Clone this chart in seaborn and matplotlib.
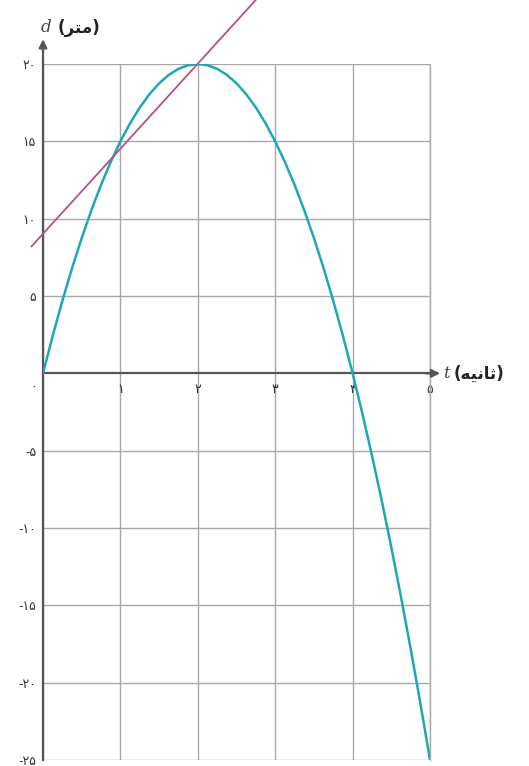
import pandas as pd
import matplotlib
matplotlib.use("Agg")
import matplotlib.pyplot as plt
import seaborn as sns

# values: distance d (m) against time t (s)
t_values = [0, 0.125, 0.25, 0.375, 0.5, 0.625, 0.75, 0.875, 1, 1.125,
            1.25, 1.375, 1.5, 1.625, 1.75, 1.875, 2, 2.125, 2.25, 2.375,
            2.5, 2.625, 2.75, 2.875, 3, 3.125, 3.25, 3.375, 3.5, 3.625,
            3.75, 3.875, 4, 4.125, 4.25, 4.375, 4.5, 4.625, 4.75, 4.875, 5]
d_values = [0, 2.42, 4.69, 6.8, 8.75, 10.55, 12.19, 13.67, 15, 16.17,
            17.19, 18.05, 18.75, 19.3, 19.69, 19.92, 20, 19.92, 19.69, 19.3,
            18.75, 18.05, 17.19, 16.17, 15, 13.67, 12.19, 10.55, 8.75, 6.8,
            4.69, 2.42, 0, -2.58, -5.31, -8.2, -11.25, -14.45, -17.81, -21.33, -25]

# secant line end points (t, d)
line_t = [-0.15, 2.85]
line_d = [8.2, 24.7]

x_ticks = [0, 1, 2, 3, 4, 5]
x_labels = ["", "۱", "۲", "۳", "۴", "۵"]
zero_label = "۰"
y_ticks = [-25, -20, -15, -10, -5, 5, 10, 15, 20]
y_labels = ["-۲۵", "-۲۰", "-۱۵", "-۱۰", "-۵", "۵", "۱۰", "۱۵", "۲۰"]

curve_df = pd.DataFrame({"t": t_values, "d": d_values})
line_df = pd.DataFrame({"t": line_t, "d": line_d})

sns.set_theme(style="whitegrid")
plt.rcParams["font.family"] = ["DejaVu Sans"]

fig = plt.figure(figsize=(5.29, 7.66), dpi=100)
ax = fig.add_axes([0.0813, 0.0078, 0.7316, 0.9086])

ax.set_xlim(0, 5)
ax.set_ylim(-25, 20)
ax.set_xticks(x_ticks)
ax.set_xticklabels(x_labels)
ax.set_yticks(y_ticks)
ax.set_yticklabels(y_labels)
ax.grid(True, color="#a8a8a8", linewidth=1.0)
ax.set_axisbelow(True)
for gl in ax.get_xgridlines() + ax.get_ygridlines():
    gl.set_clip_on(False)
ax.axvline(5, color="#a8a8a8", linewidth=1.0, clip_on=False, zorder=1)

for s in ["top", "right"]:
    ax.spines[s].set_visible(False)
ax.spines["bottom"].set_position(("data", 0))
ax.spines["left"].set_position(("data", 0))
for s in ["bottom", "left"]:
    ax.spines[s].set_color("#555555")
    ax.spines[s].set_linewidth(1.6)
    ax.spines[s].set_zorder(3)

ax.tick_params(axis="both", length=3, width=1, color="#555555",
               labelsize=9, labelcolor="#333333", pad=2, direction="out")
ax.tick_params(axis="x", pad=4)
ax.text(-0.12, -0.9, zero_label, fontsize=9, color="#333333",
        ha="center", va="center")

sns.lineplot(data=curve_df, x="t", y="d", ax=ax, color="#1ea7b5",
             linewidth=1.8, zorder=4)
sns.lineplot(data=line_df, x="t", y="d", ax=ax, color="#b4508a",
             linewidth=1.3, zorder=5)
for ln in ax.lines[-1:]:
    ln.set_clip_on(False)
ax.set_xlabel("")
ax.set_ylabel("")

# axis arrows
ax.annotate("", xy=(0, 21.6), xytext=(0, 19.9), annotation_clip=False,
            arrowprops=dict(arrowstyle="-|>", color="#555555", lw=1.6,
                            mutation_scale=12, shrinkA=0, shrinkB=0))
ax.annotate("", xy=(5.13, 0), xytext=(4.95, 0), annotation_clip=False,
            arrowprops=dict(arrowstyle="-|>", color="#555555", lw=1.6,
                            mutation_scale=12, shrinkA=0, shrinkB=0))

# axis titles
fig.text(0.076, 1 - 28 / 766, "d", family="DejaVu Serif", style="italic",
         fontsize=12, color="#444444", va="center")
fig.text(0.108, 1 - 28 / 766, "(\uFEAE\uFE98\uFEE3)", fontweight="bold",
         fontsize=12, color="#222222", va="center")
fig.text(0.838, 1 - 374 / 766, "t", family="DejaVu Serif", style="italic",
         fontsize=12, color="#444444", va="center")
fig.text(0.858, 1 - 374 / 766, "(\uFEEA\uFEF4\uFEE7\uFE8E\uFE9B)",
         fontweight="bold", fontsize=12, color="#222222", va="center")

fig.savefig("out.png", dpi=100)
